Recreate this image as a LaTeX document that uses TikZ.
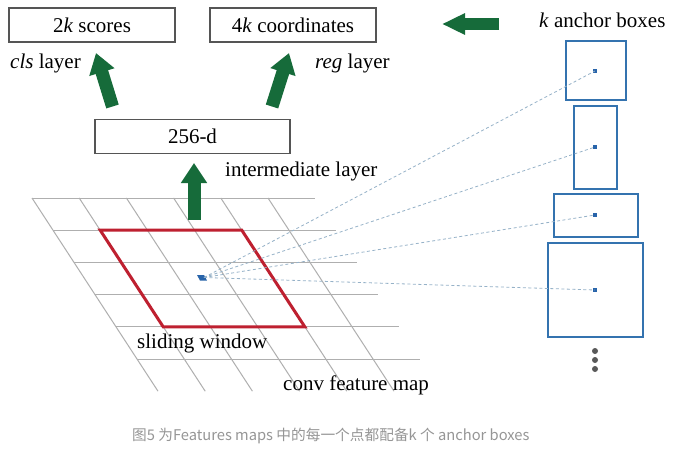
\documentclass[tikz,border=0pt]{standalone}
\usepackage{fontspec}
\setmainfont{Liberation Serif}
\newfontfamily\cjkfont{Noto Sans CJK SC}
\usetikzlibrary{arrows.meta}
\definecolor{gArrow}{RGB}{22,107,58}
\definecolor{redWin}{RGB}{190,32,48}
\definecolor{blueAnc}{RGB}{52,115,175}
\definecolor{blueDot}{RGB}{40,100,170}
\definecolor{gridGray}{RGB}{175,175,175}
\definecolor{boxGray}{RGB}{85,85,85}
\definecolor{dashCol}{RGB}{150,178,200}
\definecolor{capGray}{RGB}{150,150,150}
\tikzset{
  layerbox/.style={draw=boxGray, line width=1.2pt, minimum height=34pt, inner sep=0pt, font=\fontsize{21}{24}\selectfont},
  lbl/.style={anchor=base west, inner sep=0pt, font=\fontsize{21}{24}\selectfont},
  garrow/.style={draw=gArrow, line width=13pt, -{Triangle[width=25pt,length=20pt,fill=gArrow]}},
  gridline/.style={draw=gridGray, line width=1pt},
  ancbox/.style={draw=blueAnc, line width=1.5pt, inner sep=0pt},
  ancdot/.style={fill=blueDot, minimum size=4.5pt, inner sep=0pt},
  ray/.style={draw=dashCol, line width=0.8pt, dash pattern=on 3pt off 2.5pt},
  vdot/.style={circle, fill=black!65, minimum size=6pt, inner sep=0pt}
}
\begin{document}
\begin{tikzpicture}[x=1pt,y=-1pt]
\useasboundingbox[fill=white] (0,0) rectangle (686,450);

% feature map grid
\foreach \i in {0,...,5} {
  \draw[gridline] ({32+21*\i},{198+32.2*\i}) -- ({315+21*\i},{198+32.2*\i});
}
\foreach \j in {0,...,5} {
  \draw[gridline] ({32+47.2*\j},198) -- ({158+47.2*\j},391.2);
}

% sliding window
\draw[redWin, line width=3pt, line join=miter]
  (100.2,230.2) -- (241.8,230.2) -- (304.8,326.8) -- (163.2,326.8) -- cycle;

% centre point
\fill[blueDot] (197,275) -- (204,275) -- (207,280.5) -- (200,280.5) -- cycle;
\coordinate (ctr) at (204,277.5);

% layer boxes
\node[layerbox, minimum width=166pt] (cls) at (92,25) {2\textit{k} scores};
\node[layerbox, minimum width=166pt] (reg) at (293,25) {4\textit{k} coordinates};
\node[layerbox, minimum width=195pt] (mid) at (192.5,136.5) {256-d};

% labels
\node[lbl] (clsl) at (10,68) {\textit{cls} layer};
\node[lbl] (regl) at (315,68) {\textit{reg} layer};
\node[lbl] (midl) at (225,176) {intermediate layer};
\node[lbl] (ancl) at (539,27) {\textit{k} anchor boxes};
\node[lbl] (slw) at (137,348) {sliding window};
\node[lbl] (cfm) at (283,390) {conv feature map};

% anchor boxes
\node[ancbox, minimum width=60pt, minimum height=59pt] (a1) at (596,70.5) {};
\node[ancbox, minimum width=43pt, minimum height=83pt] (a2) at (595.5,147.5) {};
\node[ancbox, minimum width=84pt, minimum height=43pt] (a3) at (596,215.5) {};
\node[ancbox, minimum width=95pt, minimum height=94pt] (a4) at (595.5,290) {};
\node[ancdot] (d1) at (595,71) {};
\node[ancdot] (d2) at (595,147) {};
\node[ancdot] (d3) at (595,215) {};
\node[ancdot] (d4) at (595,290) {};
\node[vdot] (v1) at (595,351) {};
\node[vdot] (v2) at (595,360) {};
\node[vdot] (v3) at (595,369) {};

% rays
\foreach \d in {d1,d2,d3,d4} {
  \draw[ray] (ctr) -- (\d.center);
}

% green arrows
\coordinate (gs) at (194,220);
\coordinate (ge) at (194,163);
\coordinate (cs) at (112.5,106.5);
\coordinate (ce) at (96,53);
\coordinate (rs) at (272,106.5);
\coordinate (re) at (289,53);
\coordinate (ls) at (499,24);
\coordinate (le) at (442,24);
\draw[garrow] (gs) -- (ge);
\draw[garrow] (cs) -- (ce);
\draw[garrow] (rs) -- (re);
\draw[garrow, line width=12pt, -{Triangle[width=20pt,length=23pt,fill=gArrow]}] (ls) -- (le);

% caption
\node[anchor=base west, inner sep=0pt, text=capGray, font=\cjkfont\fontsize{14.7}{17}\selectfont] (cap) at (132,440) {图5 为Features maps 中的每一个点都配备k 个 anchor boxes};
\end{tikzpicture}
\end{document}
